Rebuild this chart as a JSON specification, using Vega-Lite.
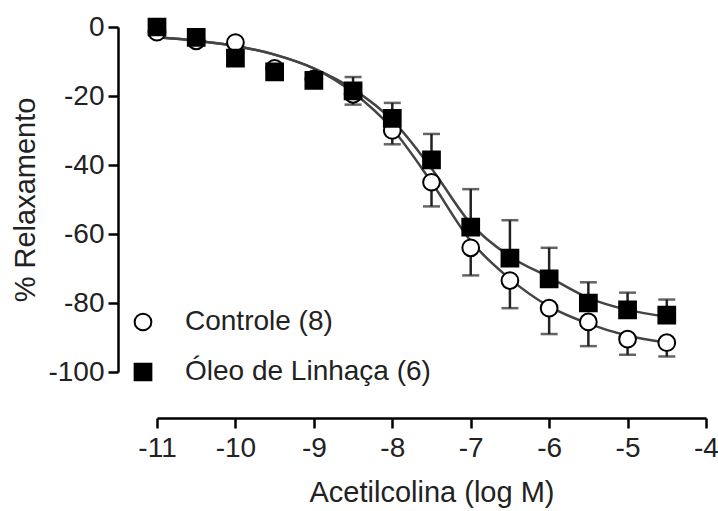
{
  "$schema": "https://vega.github.io/schema/vega-lite/v6.json",
  "width": 549,
  "height": 345,
  "autosize": {"type": "none"},
  "padding": {"left": 157, "top": 27, "right": 12, "bottom": 139},
  "background": "white",
  "config": {
    "view": {"stroke": null},
    "font": "Liberation Sans",
    "axis": {
      "grid": false,
      "domainColor": "black",
      "domainWidth": 2.5,
      "tickColor": "black",
      "tickWidth": 2.5,
      "tickSize": 10,
      "labelFont": "Liberation Sans",
      "labelFontSize": 28,
      "labelColor": "#222",
      "titleFont": "Liberation Sans",
      "titleFontSize": 29,
      "titleFontWeight": "normal",
      "titleColor": "#222"
    },
    "legend": {
      "labelFont": "Liberation Sans",
      "labelFontSize": 28,
      "labelColor": "#222",
      "labelLimit": 400
    }
  },
  "datasets": {
    "pts": [
      {"g": "Controle (8)", "x": -11, "y": -1.5, "lo": -2.5, "hi": -1.5, "cap": -2.5},
      {"g": "Controle (8)", "x": -10.5, "y": -4, "lo": -5, "hi": -4, "cap": -5},
      {"g": "Controle (8)", "x": -10, "y": -4.5, "lo": -5.5, "hi": -4.5, "cap": -5.5},
      {"g": "Controle (8)", "x": -9.5, "y": -12, "lo": -13.5, "hi": -12, "cap": -13.5},
      {"g": "Controle (8)", "x": -9, "y": -15, "lo": -17, "hi": -15, "cap": -17},
      {"g": "Controle (8)", "x": -8.5, "y": -19.5, "lo": -22.5, "hi": -19.5, "cap": -22.5},
      {"g": "Controle (8)", "x": -8, "y": -30, "lo": -34, "hi": -30, "cap": -34},
      {"g": "Controle (8)", "x": -7.5, "y": -45, "lo": -52, "hi": -45, "cap": -52},
      {"g": "Controle (8)", "x": -7, "y": -64, "lo": -72, "hi": -64, "cap": -72},
      {"g": "Controle (8)", "x": -6.5, "y": -73.5, "lo": -81.5, "hi": -73.5, "cap": -81.5},
      {"g": "Controle (8)", "x": -6, "y": -81.5, "lo": -89, "hi": -81.5, "cap": -89},
      {"g": "Controle (8)", "x": -5.5, "y": -85.5, "lo": -92.5, "hi": -85.5, "cap": -92.5},
      {"g": "Controle (8)", "x": -5, "y": -90.5, "lo": -95, "hi": -90.5, "cap": -95},
      {"g": "Controle (8)", "x": -4.5, "y": -91.5, "lo": -95.5, "hi": -91.5, "cap": -95.5},
      {"g": "Óleo de Linhaça (6)", "x": -11, "y": 0, "lo": 0, "hi": 1, "cap": 1},
      {"g": "Óleo de Linhaça (6)", "x": -10.5, "y": -3, "lo": -3, "hi": -1.5, "cap": -1.5},
      {"g": "Óleo de Linhaça (6)", "x": -10, "y": -9, "lo": -9, "hi": -7.5, "cap": -7.5},
      {"g": "Óleo de Linhaça (6)", "x": -9.5, "y": -13, "lo": -13, "hi": -11, "cap": -11},
      {"g": "Óleo de Linhaça (6)", "x": -9, "y": -15.5, "lo": -15.5, "hi": -13.5, "cap": -13.5},
      {"g": "Óleo de Linhaça (6)", "x": -8.5, "y": -18.5, "lo": -18.5, "hi": -14.5, "cap": -14.5},
      {"g": "Óleo de Linhaça (6)", "x": -8, "y": -26.5, "lo": -26.5, "hi": -22, "cap": -22},
      {"g": "Óleo de Linhaça (6)", "x": -7.5, "y": -38.5, "lo": -38.5, "hi": -31, "cap": -31},
      {"g": "Óleo de Linhaça (6)", "x": -7, "y": -58, "lo": -58, "hi": -47, "cap": -47},
      {"g": "Óleo de Linhaça (6)", "x": -6.5, "y": -67, "lo": -67, "hi": -56, "cap": -56},
      {"g": "Óleo de Linhaça (6)", "x": -6, "y": -73, "lo": -73, "hi": -64, "cap": -64},
      {"g": "Óleo de Linhaça (6)", "x": -5.5, "y": -80, "lo": -80, "hi": -74, "cap": -74},
      {"g": "Óleo de Linhaça (6)", "x": -5, "y": -82, "lo": -82, "hi": -77, "cap": -77},
      {"g": "Óleo de Linhaça (6)", "x": -4.5, "y": -83.5, "lo": -83.5, "hi": -79, "cap": -79}
    ],
    "curve": [
      {"g": "Controle (8)", "x": -11, "y": -3},
      {"g": "Controle (8)", "x": -10.5, "y": -4},
      {"g": "Controle (8)", "x": -10, "y": -5.5},
      {"g": "Controle (8)", "x": -9.5, "y": -8},
      {"g": "Controle (8)", "x": -9, "y": -12},
      {"g": "Controle (8)", "x": -8.5, "y": -19},
      {"g": "Controle (8)", "x": -8, "y": -29.5},
      {"g": "Controle (8)", "x": -7.5, "y": -45},
      {"g": "Controle (8)", "x": -7, "y": -62},
      {"g": "Controle (8)", "x": -6.5, "y": -73},
      {"g": "Controle (8)", "x": -6, "y": -81},
      {"g": "Controle (8)", "x": -5.5, "y": -86},
      {"g": "Controle (8)", "x": -5, "y": -89.5},
      {"g": "Controle (8)", "x": -4.5, "y": -91.5},
      {"g": "Óleo de Linhaça (6)", "x": -11, "y": -3},
      {"g": "Óleo de Linhaça (6)", "x": -10.5, "y": -4},
      {"g": "Óleo de Linhaça (6)", "x": -10, "y": -5.5},
      {"g": "Óleo de Linhaça (6)", "x": -9.5, "y": -8},
      {"g": "Óleo de Linhaça (6)", "x": -9, "y": -12},
      {"g": "Óleo de Linhaça (6)", "x": -8.5, "y": -18},
      {"g": "Óleo de Linhaça (6)", "x": -8, "y": -27},
      {"g": "Óleo de Linhaça (6)", "x": -7.5, "y": -41},
      {"g": "Óleo de Linhaça (6)", "x": -7, "y": -57},
      {"g": "Óleo de Linhaça (6)", "x": -6.5, "y": -66.5},
      {"g": "Óleo de Linhaça (6)", "x": -6, "y": -72.5},
      {"g": "Óleo de Linhaça (6)", "x": -5.5, "y": -78.5},
      {"g": "Óleo de Linhaça (6)", "x": -5, "y": -82},
      {"g": "Óleo de Linhaça (6)", "x": -4.5, "y": -84}
    ]
  },
  "layer": [
    {
      "data": {"name": "curve"},
      "mark": {"type": "line", "interpolate": "monotone", "color": "#444", "strokeWidth": 2.5, "clip": false},
      "encoding": {
        "x": {"field": "x", "type": "quantitative", "scale": {"domain": [-11, -4], "nice": false, "zero": false},
          "axis": {"title": "Acetilcolina (log M)", "values": [-11, -10, -9, -8, -7, -6, -5, -4], "offset": 46, "labelPadding": 6, "titlePadding": 16, "labelFlush": false,
            "labelExpr": "datum.value < 0 ? '-' + abs(datum.value) : '' + datum.value"}},
        "y": {"field": "y", "type": "quantitative", "scale": {"domain": [-100, 0], "nice": false, "zero": false},
          "axis": {"title": "% Relaxamento", "values": [-100, -80, -60, -40, -20, 0], "offset": 39, "labelPadding": 4, "titlePadding": 7,
            "labelExpr": "datum.value < 0 ? '-' + abs(datum.value) : '' + datum.value"}},
        "detail": {"field": "g", "type": "nominal"}
      }
    },
    {
      "data": {"name": "pts"},
      "mark": {"type": "rule", "color": "#222", "strokeWidth": 2.5},
      "encoding": {
        "x": {"field": "x", "type": "quantitative"},
        "y": {"field": "lo", "type": "quantitative"},
        "y2": {"field": "hi"}
      }
    },
    {
      "data": {"name": "pts"},
      "mark": {"type": "tick", "orient": "horizontal", "color": "#222", "size": 17, "thickness": 2.5},
      "encoding": {
        "x": {"field": "x", "type": "quantitative"},
        "y": {"field": "cap", "type": "quantitative"}
      }
    },
    {
      "data": {"name": "pts"},
      "mark": {"type": "point", "filled": false, "strokeWidth": 2, "size": 280, "opacity": 1},
      "encoding": {
        "x": {"field": "x", "type": "quantitative"},
        "y": {"field": "y", "type": "quantitative"},
        "shape": {"field": "g", "type": "nominal", "scale": {"domain": ["Controle (8)", "Óleo de Linhaça (6)"], "range": ["circle", "square"]},
          "legend": {"title": null, "orient": "none", "legendX": -28, "legendY": 281, "rowPadding": 22, "labelOffset": 28, "symbolSize": 280, "symbolStrokeWidth": 2, "symbolOpacity": 1}},
        "fill": {"field": "g", "type": "nominal", "scale": {"domain": ["Controle (8)", "Óleo de Linhaça (6)"], "range": ["white", "black"]},
          "legend": {"title": null, "orient": "none", "legendX": -28, "legendY": 281, "rowPadding": 22, "labelOffset": 28, "symbolSize": 280, "symbolStrokeWidth": 2, "symbolOpacity": 1}},
        "stroke": {"field": "g", "type": "nominal", "scale": {"domain": ["Controle (8)", "Óleo de Linhaça (6)"], "range": ["black", "black"]},
          "legend": {"title": null, "orient": "none", "legendX": -28, "legendY": 281, "rowPadding": 22, "labelOffset": 28, "symbolSize": 280, "symbolStrokeWidth": 2, "symbolOpacity": 1}}
      }
    }
  ]
}
